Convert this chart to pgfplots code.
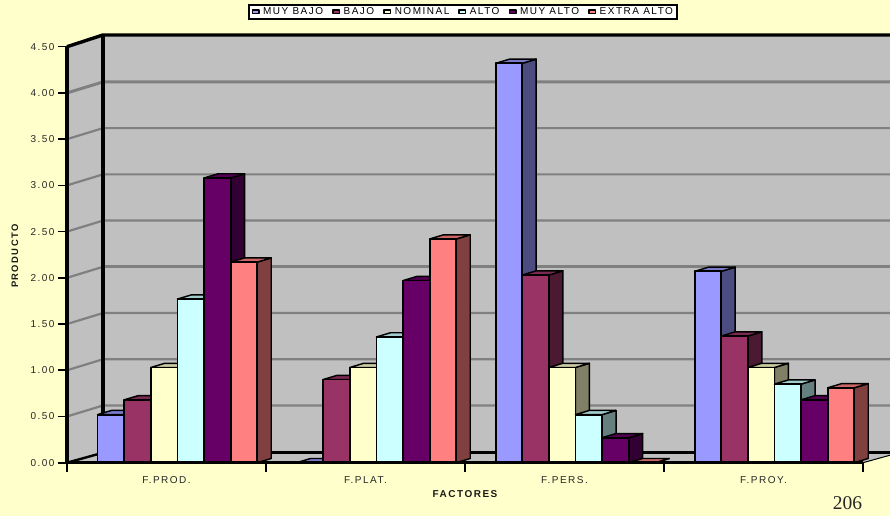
\documentclass[border=0pt]{standalone}
\usepackage{fontspec}
\setmainfont[LetterSpace=15]{Liberation Sans}
\newfontfamily\pagefont{Liberation Serif}
\usepackage{pgfplots}
\usepackage{pgfplotstable}
\pgfplotsset{compat=1.18}

\definecolor{paper}{RGB}{255,255,204}
\definecolor{wall}{RGB}{192,192,192}
\definecolor{gridgray}{RGB}{128,128,128}
\definecolor{cBlue}{RGB}{153,153,255}
\definecolor{cMaroon}{RGB}{153,51,102}
\definecolor{cCream}{RGB}{255,255,204}
\definecolor{cCyan}{RGB}{204,255,255}
\definecolor{cPurple}{RGB}{102,0,102}
\definecolor{cRed}{RGB}{255,128,128}

\pgfplotstableread{
x  MB   B    N    A    MA   EA
0  0.52 0.68 1.03 1.77 3.08 2.17
1  0.00 0.90 1.03 1.36 1.97 2.42
2  4.32 2.03 1.03 0.52 0.27 0.00
3  2.07 1.37 1.03 0.85 0.68 0.81
}\factordata

% bar width and depth of the 3D offset, in axis units
\def\barw{0.1337}
\def\depx{0.0704}
\def\depy{0.0455}

\pgfplotsset{
  keybox/.style={legend image code/.code={
    \draw[##1,line width=1.5pt,solid] (0pt,-1pt) rectangle (6.5pt,2.2pt);}},
}
% side and top faces of one series: column, shift, base colour
\newcommand{\barfaces}[3]{%
  \foreach \row in {0,1,2,3}{%
    \pgfplotstablegetelem{\row}{#1}\of\factordata
    \let\val\pgfplotsretval
    \pgfmathsetmacro\xr{\row+#2+\barw/2}%
    \pgfmathsetmacro\xl{\row+#2-\barw/2}%
    \pgfmathsetmacro\xrb{\xr+\depx}%
    \pgfmathsetmacro\xlb{\xl+\depx}%
    \pgfmathsetmacro\vb{\val+\depy}%
    \addplot[forget plot,draw=black,line width=1.45pt,line join=round,fill=#3!50!black]
      coordinates {(\xr,0) (\xrb,\depy) (\xrb,\vb) (\xr,\val)} --cycle;
    \addplot[forget plot,draw=black,line width=1.45pt,line join=round,fill=#3!80!black]
      coordinates {(\xl,\val) (\xlb,\vb) (\xrb,\vb) (\xr,\val)} --cycle;
  }%
}
% front face of one series: column, shift, base colour
\newcommand{\barfront}[3]{%
  \addplot[ybar,bar shift=#2,bar width=\barw,draw=black,line width=1.8pt,line join=round,fill=#3,keybox]
    table[x=x,y=#1] {\factordata};
}

\begin{document}
\begin{tikzpicture}
\path[use as bounding box] (0,0) rectangle (890pt,516pt);
\clip (0,0) rectangle (890pt,516pt);
\fill[paper] (0,0) rectangle (890pt,516pt);
\begin{axis}[
  at={(67pt,53.3pt)},anchor=south west,
  scale only axis,width=796pt,height=416pt,
  xmin=-0.5,xmax=3.5,ymin=0,ymax=4.5,
  clip=false,axis on top,
  axis x line*=bottom,axis y line*=left,
  axis line style={line width=3.2pt,black},
  xtick={0,1,2,3},xticklabels={F.PROD.,F.PLAT.,F.PERS.,F.PROY.},
  minor xtick={-0.5,0.5,1.5,2.5,3.5},
  ytick={0,0.5,1,1.5,2,2.5,3,3.5,4,4.5},
  tick align=outside,major tick length=9pt,minor tick length=9pt,
  tick style={line width=1.6pt,black},
  major x tick style={draw=none},
  x tick label style={yshift=-1pt},
  y tick label style={/pgf/number format/.cd,fixed,fixed zerofill,precision=2,assume math mode=true},
  tick label style={font=\fontsize{10}{12}\selectfont,text=black!85},
  xlabel={\bfseries FACTORES},ylabel={\bfseries PRODUCTO},
  label style={text=black!90},
  xlabel style={font=\fontsize{10}{12}\selectfont,at={(axis description cs:0.5,0)},anchor=center,yshift=-31pt},
  ylabel style={font=\fontsize{9.4}{12}\selectfont,at={(axis description cs:0,0.5)},anchor=center,xshift=-1.5pt,yshift=52pt},
  legend columns=6,
  legend style={at={(axis description cs:0.2274,1.1026)},anchor=north west,
    draw=black,line width=2pt,fill=white,font=\fontsize{10}{12}\selectfont,
    inner xsep=2.5pt,inner ysep=2pt,
    /tikz/every even column/.append style={column sep=8pt},
    /tikz/every odd column/.append style={column sep=2.5pt},
    nodes={inner sep=1pt,line width=0.4pt}},
  legend cell align=left,
]
% back wall, left wall and floor
\addplot[forget plot,draw=none,fill=wall] coordinates {(-0.319,0.108) (-0.319,4.627) (3.7,4.627) (3.7,0.108)} --cycle;
\addplot[forget plot,draw=none,fill=wall] coordinates {(-0.5,0) (-0.5,4.5) (-0.319,4.627) (-0.319,0.108)} --cycle;
\addplot[forget plot,draw=none,fill=wall] coordinates {(-0.5,0) (-0.319,0.108) (3.681,0.108) (3.5,0)} --cycle;
% gridlines across both walls
\pgfplotsinvokeforeach{0.5,1.5,2.0,2.5,3.0,3.5,1.0}{
  \pgfmathsetmacro\gy{#1+0.119}
  \addplot[forget plot,draw=gridgray,line width=2.2pt] coordinates {(-0.5,#1) (-0.319,\gy) (3.7,\gy)};
}
\addplot[forget plot,draw=gridgray,line width=3pt] coordinates {(-0.5,4) (-0.319,4.119) (3.7,4.119)};
\addplot[forget plot,draw=gridgray,line width=3pt] coordinates {(-0.319,2.119) (3.7,2.119)};
% wall outlines
\addplot[forget plot,draw=black,line width=3.4pt] coordinates {(-0.5,4.5) (-0.319,4.627) (3.7,4.627)};
\addplot[forget plot,draw=black,line width=3.4pt] coordinates {(-0.319,4.627) (-0.319,0.108) (3.681,0.108)};
\addplot[forget plot,draw=black,line width=2.4pt] coordinates {(-0.5,0) (-0.319,0.108)};
\addplot[forget plot,draw=black,line width=1pt] coordinates {(3.5,0) (3.681,0.108)};
% bars, left to right, so that each front covers the previous side
\barfaces{MB}{-0.2794}{cBlue}
\barfront{MB}{-0.2794}{cBlue}
\addlegendentry{MUY BAJO}
\barfaces{B}{-0.1457}{cMaroon}
\barfront{B}{-0.1457}{cMaroon}
\addlegendentry{BAJO}
\barfaces{N}{-0.0120}{cCream}
\barfront{N}{-0.0120}{cCream}
\addlegendentry{NOMINAL}
\barfaces{A}{0.1217}{cCyan}
\barfront{A}{0.1217}{cCyan}
\addlegendentry{ALTO}
\barfaces{MA}{0.2554}{cPurple}
\barfront{MA}{0.2554}{cPurple}
\addlegendentry{MUY ALTO}
\barfaces{EA}{0.3891}{cRed}
\barfront{EA}{0.3891}{cRed}
\addlegendentry{EXTRA ALTO}
\end{axis}
\node[font=\pagefont\fontsize{19.5}{22}\selectfont,anchor=center,text=black!85] at (847.5pt,13pt) {206};
\end{tikzpicture}
\end{document}
